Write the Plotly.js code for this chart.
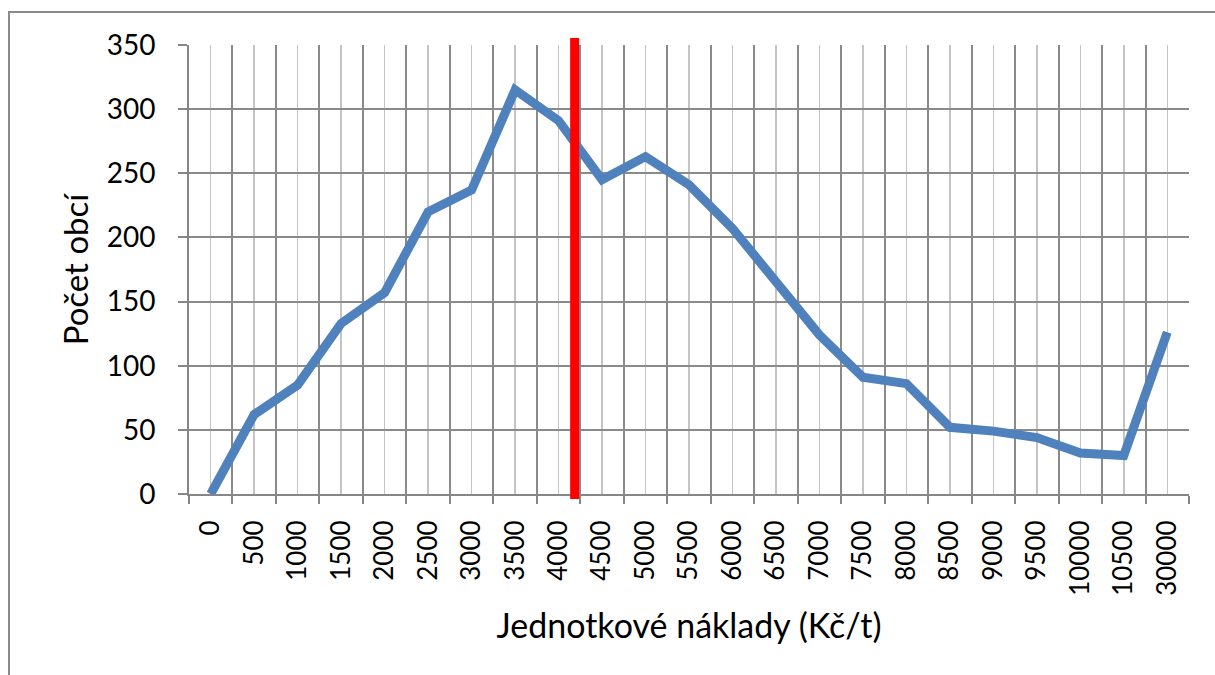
<!DOCTYPE html>
<html>
<head>
<meta charset="utf-8">
<script src="https://cdn.plot.ly/plotly-3.0.1.min.js"></script>
<style>
  html, body { margin: 0; padding: 0; background: #ffffff; }
  #chart { width: 1215px; height: 675px; }
</style>
</head>
<body>
<div id="chart"></div>
<script>
// Category labels (unit costs, Kč/t)
const categories = ["0","500","1000","1500","2000","2500","3000","3500","4000","4500","5000",
  "5500","6000","6500","7000","7500","8000","8500","9000","9500","10000","10500","30000"];
// Number of municipalities per cost class
const counts = [0, 62, 85, 133, 157, 220, 237, 315, 291, 245, 263,
  241, 207, 165, 124, 91, 86, 52, 49, 44, 32, 30, 126];
// Position of the red reference line, in category units
const referenceLinePos = 8.37;

const positions = categories.map((_, i) => i);

const font = "Lato, 'Open Sans', sans-serif";

const trace = {
  x: positions,
  y: counts,
  type: 'scatter',
  mode: 'lines',
  line: { color: '#4f81bd', width: 9 },
  hoverinfo: 'x+y'
};

const layout = {
  width: 1215,
  height: 675,
  margin: { l: 189, r: 26, t: 45, b: 181 },
  paper_bgcolor: '#ffffff',
  plot_bgcolor: '#ffffff',
  showlegend: false,
  font: { family: font, color: '#000000' },
  xaxis: {
    range: [-0.5, categories.length - 0.5],
    tickmode: 'array',
    tickvals: positions,
    ticktext: categories,
    tickangle: -90,
    ticks: '',
    ticklabelstandoff: 14,
    tickfont: { size: 26, family: font, color: '#000' },
    showgrid: true,
    gridcolor: '#c4c4c4',
    gridwidth: 1.5,
    zeroline: false,
    showline: true,
    linecolor: '#868686',
    linewidth: 2,
    minor: {
      tickmode: 'linear',
      tick0: 0.5,
      dtick: 1,
      ticks: 'outside',
      ticklen: 8,
      tickwidth: 2,
      tickcolor: '#868686',
      showgrid: true,
      gridcolor: '#8a8a8a',
      gridwidth: 2
    },
    title: {
      text: 'Jednotkové náklady (Kč/t)',
      font: { size: 34, family: font, color: '#000' },
      standoff: 19
    },
    fixedrange: true
  },
  yaxis: {
    range: [0, 350],
    tickmode: 'linear',
    tick0: 0,
    dtick: 50,
    ticks: 'outside',
    ticklen: 9,
    tickwidth: 2,
    tickcolor: '#868686',
    tickfont: { size: 28, family: font, color: '#000' },
    ticklabelstandoff: 17,
    showgrid: true,
    gridcolor: '#8a8a8a',
    gridwidth: 2,
    zeroline: false,
    showline: true,
    linecolor: '#868686',
    linewidth: 2,
    title: {
      text: 'Počet obcí',
      font: { size: 33, family: font, color: '#000' },
      standoff: 8
    },
    fixedrange: true
  },
  shapes: [
    {
      type: 'rect', xref: 'paper', yref: 'paper',
      x0: -0.18, x1: 1.2, y0: -0.6, y1: 1.0735,
      line: { color: '#8a8a8a', width: 2 },
      fillcolor: 'rgba(0,0,0,0)',
      layer: 'below'
    },
    {
      type: 'line', xref: 'x', yref: 'paper',
      x0: referenceLinePos, x1: referenceLinePos,
      y0: -0.011, y1: 1.0156,
      line: { color: '#ff0000', width: 9 },
      layer: 'above'
    }
  ]
};

Plotly.newPlot('chart', [trace], layout, { displayModeBar: false, staticPlot: true });
</script>
</body>
</html>
